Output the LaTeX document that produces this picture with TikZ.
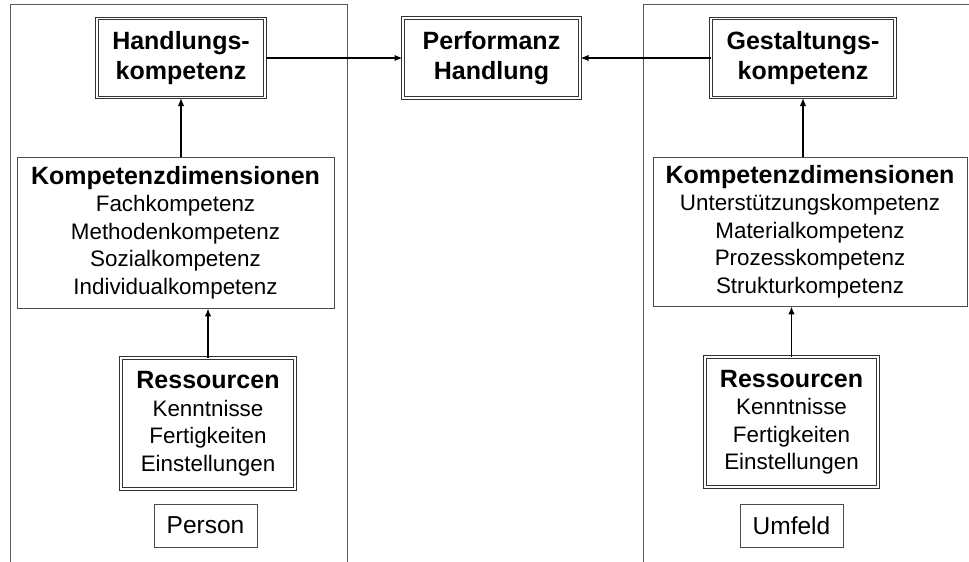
\documentclass[tikz,border=0pt]{standalone}
\usepackage{fontspec}
\setmainfont{Liberation Sans}
\usetikzlibrary{positioning,arrows.meta}

\begin{document}
\begin{tikzpicture}[x=1pt,y=-1pt,node distance=14pt,
dblbox/.style={
% double frame
rectangle,
draw=black!80, line width=1pt,
double, double distance=1.6pt,
align=center, inner sep=2pt},
plainbox/.style={
rectangle,
draw=black!70, line width=0.8pt,
align=center, inner sep=2pt},
head/.style={font=\fontsize{25}{30}\selectfont\bfseries},
body/.style={font=\fontsize{22.4}{27.5}\selectfont},
panel/.style={draw=black!65, line width=1pt},
flow/.style={-{Latex[length=8pt,width=6.5pt]}, line width=1.5pt}]

\useasboundingbox (0,0) rectangle (969,562);

% the two frames, open at the bottom
\draw[panel] (10,562) -- (10,4) -- (347,4) -- (347,562);
\draw[panel] (643,562) -- (643,4) -- (969,4);

% top row
\node (HandKomp) [dblbox,head,minimum width=168pt,minimum height=79pt] at (181,58) {Handlungs-\\kompetenz};
\node (Perf) [dblbox,head,minimum width=177pt,minimum height=80pt] at (491.5,58) {Performanz\\Handlung};
\node (GestKomp) [dblbox,head,minimum width=184pt,minimum height=79pt] at (803,58) {Gestaltungs-\\kompetenz};

% dimensions
\node (DimPers) [plainbox,body,minimum width=317pt,minimum height=151pt] at (175.5,232.5)
{{\fontsize{25}{28}\selectfont\bfseries Kompetenzdimensionen}\\Fachkompetenz\\Methodenkompetenz\\Sozialkompetenz\\Individualkompetenz};
\node (DimUmf) [plainbox,body,minimum width=314pt,minimum height=149pt] at (810,231.5)
{{\fontsize{25}{28}\selectfont\bfseries Kompetenzdimensionen}\\Unterst\"utzungskompetenz\\Materialkompetenz\\Prozesskompetenz\\Strukturkompetenz};

% resources
\node (ResPers) [dblbox,body,minimum width=174pt,minimum height=131pt] at (208,423.5)
{{\fontsize{25}{28}\selectfont\bfseries Ressourcen}\\Kenntnisse\\Fertigkeiten\\Einstellungen};
\node (ResUmf) [dblbox,body,minimum width=173pt,minimum height=130pt] at (791.5,422)
{{\fontsize{25}{28}\selectfont\bfseries Ressourcen}\\Kenntnisse\\Fertigkeiten\\Einstellungen};

\node (Person) [plainbox,font=\fontsize{24.5}{28}\selectfont,minimum width=103pt,minimum height=43pt,below=14pt of ResPers,xshift=-2.5pt] {Person};
\node (Umfeld) [plainbox,font=\fontsize{24.5}{28}\selectfont,minimum width=103pt,minimum height=43pt,below=16pt of ResUmf] {Umfeld};

\path
(HandKomp) edge[flow] (Perf) % into the middle
(GestKomp) edge[flow] (Perf);
\draw[flow] (HandKomp.south |- DimPers.north) -- (HandKomp.south);
\draw[flow] (ResPers.north) -- (ResPers.north |- DimPers.south);
\draw[flow] (GestKomp.south |- DimUmf.north) -- (GestKomp.south);
\draw[flow] (ResUmf.north) -- (ResUmf.north |- DimUmf.south);

\end{tikzpicture}
\end{document}
